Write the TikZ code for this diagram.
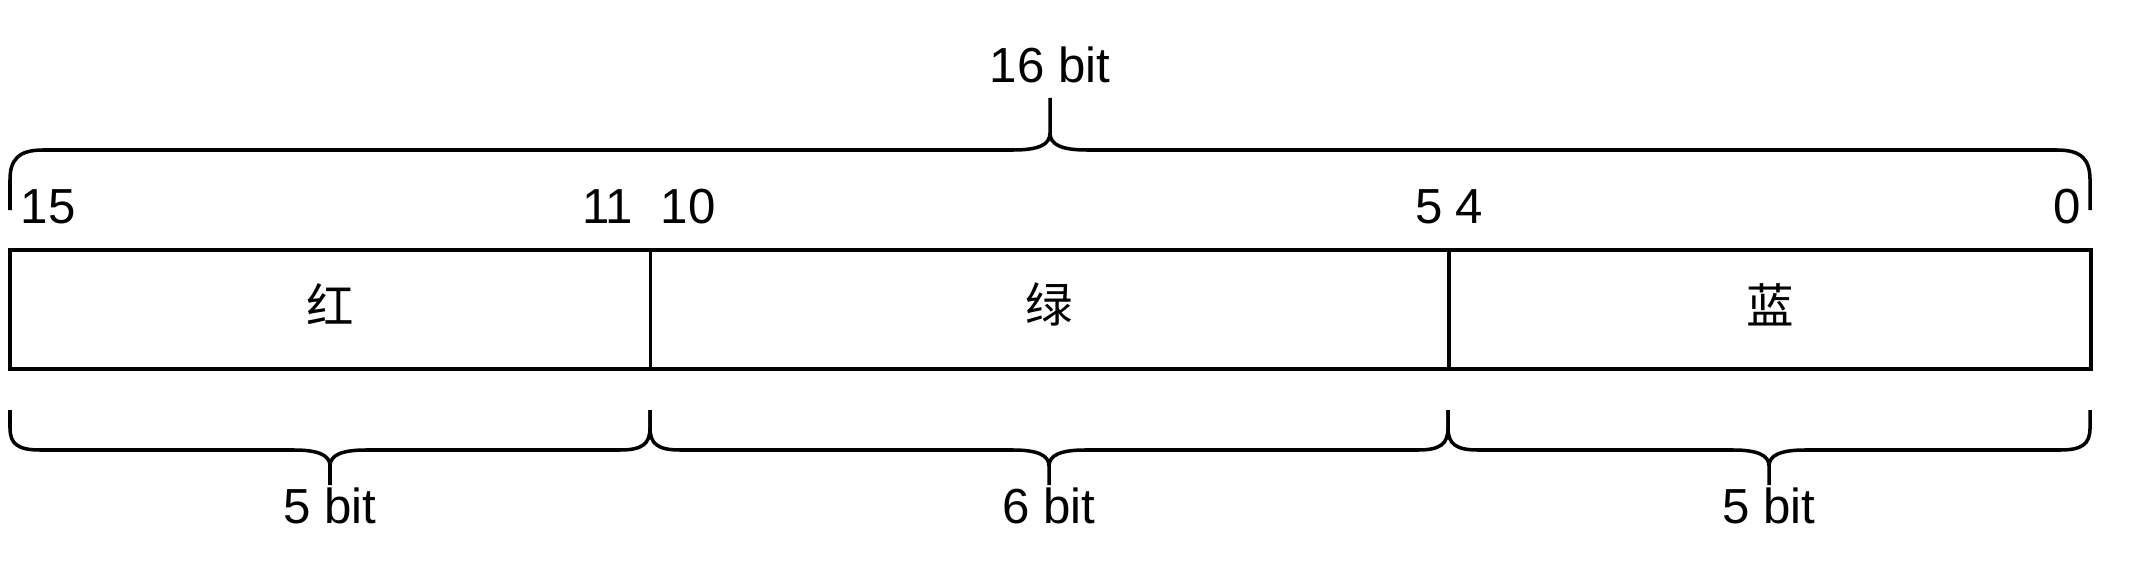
\documentclass[tikz,border=0pt]{standalone}
\usepackage{fontspec}
\setmainfont{Liberation Sans}
\newfontfamily\cjk{Noto Sans CJK SC}
\usetikzlibrary{positioning}
\definecolor{fieldline}{RGB}{0,0,0}
\tikzset{
  field/.style   ={rectangle, draw=fieldline, line width=1pt, minimum height=1.19cm,
                   inner sep=0pt, outer sep=0pt, anchor=north west},
  fieldname/.style={inner sep=0pt, yshift=1.4pt, font=\fontsize{13.5}{16}\selectfont\cjk},
  bitnum/.style  ={inner sep=0pt, font=\fontsize{14}{17}\selectfont},
  bitlabel/.style={inner sep=0pt, anchor=base, font=\fontsize{14}{17}\selectfont},
  bitbrace/.style={line width=1pt, fieldline, line join=round},
}
\begin{document}
\begin{tikzpicture}[x=0.01cm, y=-0.01cm]
\useasboundingbox (0,0) rectangle (2140,576);
% register fields
\node[field, minimum width=6.40cm] (red)   at (10,250)          {};
\node[field, minimum width=7.98cm] (green) at (red.north east)   {};
\node[field, minimum width=6.42cm] (blue)  at (green.north east) {};
\node[fieldname] (redname)   at (red.center)   {红};
\node[fieldname] (greenname) at (green.center) {绿};
\node[fieldname] (bluename)  at (blue.center)  {蓝};
% bit positions
\node[bitnum, anchor=base west] (b15) at (20,223)   {15};
\node[bitnum, anchor=base east] (b11) at (634,223)  {11};
\node[bitnum, anchor=base west] (b10) at (660,223)  {10};
\node[bitnum, anchor=base east] (b5)  at (1444,223) {5};
\node[bitnum, anchor=base west] (b4)  at (1455,223) {4};
\node[bitnum, anchor=base east] (b0)  at (2082,223) {0};
% top brace
\draw[bitbrace] (10,210) -- (10,180) .. controls (10,160) and (18,150) .. (43,150) -- (1013,150)
  .. controls (1038,150) and (1050,145) .. (1050,133) -- (1050,98);
\draw[bitbrace] (1050,133) .. controls (1050,145) and (1062,150) .. (1087,150) -- (2057,150)
  .. controls (2082,150) and (2090,160) .. (2090,180) -- (2090,210);
\node[bitlabel] (total) at (1050,83) {16 bit};
% bottom braces
\draw[bitbrace] (10,410) -- (10,428) .. controls (10,444) and (18,450) .. (40,450) -- (294,450)
  .. controls (318,450) and (330,455) .. (330,466) -- (330,485);
\draw[bitbrace] (330,466) .. controls (330,455) and (342,450) .. (366,450) -- (620,450)
  .. controls (642,450) and (650,444) .. (650,428) -- (650,410);
\draw[bitbrace] (650,410) -- (650,428) .. controls (650,444) and (658,450) .. (680,450) -- (1013,450)
  .. controls (1037,450) and (1049,455) .. (1049,466) -- (1049,485);
\draw[bitbrace] (1049,466) .. controls (1049,455) and (1061,450) .. (1085,450) -- (1418,450)
  .. controls (1440,450) and (1448,444) .. (1448,428) -- (1448,410);
\draw[bitbrace] (1448,410) -- (1448,428) .. controls (1448,444) and (1456,450) .. (1478,450) -- (1733,450)
  .. controls (1757,450) and (1769,455) .. (1769,466) -- (1769,485);
\draw[bitbrace] (1769,466) .. controls (1769,455) and (1781,450) .. (1805,450) -- (2060,450)
  .. controls (2082,450) and (2090,444) .. (2090,428) -- (2090,410);
\node[bitlabel] (redbits)   at (330,523)  {5 bit};
\node[bitlabel] (greenbits) at (1049,523) {6 bit};
\node[bitlabel] (bluebits)  at (1769,523) {5 bit};
\end{tikzpicture}
\end{document}
